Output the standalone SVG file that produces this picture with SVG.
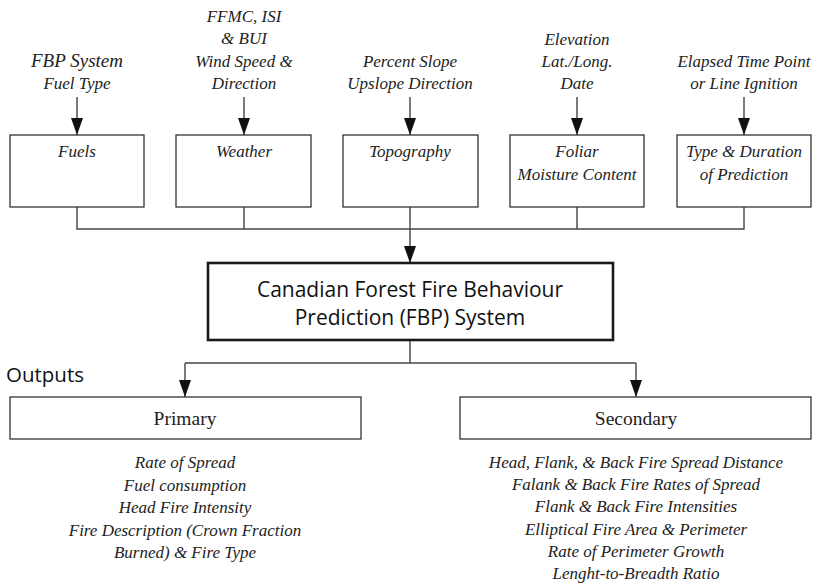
<svg xmlns="http://www.w3.org/2000/svg" width="815" height="585" viewBox="0 0 815 585">
<style>
.box{fill:#fff;stroke:#333;stroke-width:1.3}
.main{fill:#fff;stroke:#1a1a1a;stroke-width:2.6}
.ln{fill:none;stroke:#444;stroke-width:1.4}
.it{font-family:"Liberation Serif",serif;font-style:italic;font-size:17px;fill:#222;text-anchor:middle}
.big{font-size:19px}
.rm{font-family:"Liberation Serif",serif;font-size:19.5px;fill:#222;text-anchor:middle}
.sans{font-family:"Open Sans","Liberation Sans",sans-serif;fill:#111}
</style>
<defs>
<marker id="ad" markerWidth="12" markerHeight="17" refX="6" refY="17" orient="0" markerUnits="userSpaceOnUse" viewBox="0 0 12 17">
<path d="M0,0 L12,0 L6,17 Z" fill="#111"/>
</marker>
</defs>
<g id="connectors">
<line class="ln" x1="77" y1="97" x2="77" y2="135" marker-end="url(#ad)"/>
<line class="ln" x1="244" y1="97" x2="244" y2="135" marker-end="url(#ad)"/>
<line class="ln" x1="410" y1="97" x2="410" y2="135" marker-end="url(#ad)"/>
<line class="ln" x1="577" y1="97" x2="577" y2="135" marker-end="url(#ad)"/>
<line class="ln" x1="744" y1="97" x2="744" y2="135" marker-end="url(#ad)"/>
<path class="ln" d="M77,207 V229 H744 V207 M244,207 V229 M577,207 V229"/>
<line class="ln" x1="410" y1="207" x2="410" y2="263" marker-end="url(#ad)"/>
<path class="ln" d="M410,340 V363"/>
<path class="ln" d="M185,363 H636"/>
<line class="ln" x1="185" y1="363" x2="185" y2="397" marker-end="url(#ad)"/>
<line class="ln" x1="636" y1="363" x2="636" y2="397" marker-end="url(#ad)"/>
</g>
<g id="in-fuels">
<text class="it big" x="77" y="67">FBP System</text>
<text class="it" x="77" y="89">Fuel Type</text>
</g>
<g id="in-weather">
<text class="it" x="244" y="22">FFMC, ISI</text>
<text class="it" x="244" y="44">&amp; BUI</text>
<text class="it" x="244" y="67">Wind Speed &amp;</text>
<text class="it" x="244" y="89">Direction</text>
</g>
<g id="in-topo">
<text class="it" x="410" y="67">Percent Slope</text>
<text class="it" x="410" y="89">Upslope Direction</text>
</g>
<g id="in-foliar">
<text class="it" x="577" y="45">Elevation</text>
<text class="it" x="577" y="67">Lat./Long.</text>
<text class="it" x="577" y="89">Date</text>
</g>
<g id="in-type">
<text class="it" x="744" y="67">Elapsed Time Point</text>
<text class="it" x="744" y="89">or Line Ignition</text>
</g>
<g id="fuels">
<rect class="box" x="10" y="135" width="134" height="72"/>
<text class="it" x="77" y="157">Fuels</text>
</g>
<g id="weather">
<rect class="box" x="176" y="135" width="135" height="72"/>
<text class="it" x="244" y="157">Weather</text>
</g>
<g id="topography">
<rect class="box" x="343" y="135" width="135" height="72"/>
<text class="it" x="410" y="157">Topography</text>
</g>
<g id="foliar">
<rect class="box" x="510" y="135" width="134" height="72"/>
<text class="it" x="577" y="157">Foliar</text>
<text class="it" x="577" y="180">Moisture Content</text>
</g>
<g id="type">
<rect class="box" x="677" y="135" width="134" height="72"/>
<text class="it" x="744" y="157">Type &amp; Duration</text>
<text class="it" x="744" y="180">of Prediction</text>
</g>
<g id="fbp">
<rect class="main" x="208" y="263" width="405" height="77"/>
<text class="sans" x="410" y="297" font-size="21" text-anchor="middle">Canadian Forest Fire Behaviour</text>
<text class="sans" x="410" y="325" font-size="21" text-anchor="middle">Prediction (FBP) System</text>
</g>
<g id="outputs">
<text class="sans" x="6" y="382" font-size="20.5">Outputs</text>
</g>
<g id="primary">
<rect class="box" x="10" y="397" width="351" height="42"/>
<text class="rm" x="185" y="425">Primary</text>
</g>
<g id="primary-list">
<text class="it" x="185" y="468">Rate of Spread</text>
<text class="it" x="185" y="491">Fuel consumption</text>
<text class="it" x="185" y="513">Head Fire Intensity</text>
<text class="it" x="185" y="536">Fire Description (Crown Fraction</text>
<text class="it" x="185" y="558">Burned) &amp; Fire Type</text>
</g>
<g id="secondary">
<rect class="box" x="460" y="397" width="351" height="42"/>
<text class="rm" x="636" y="425">Secondary</text>
</g>
<g id="secondary-list">
<text class="it" x="636" y="468">Head, Flank, &amp; Back Fire Spread Distance</text>
<text class="it" x="636" y="490">Falank &amp; Back Fire Rates of Spread</text>
<text class="it" x="636" y="512">Flank &amp; Back Fire Intensities</text>
<text class="it" x="636" y="535">Elliptical Fire Area &amp; Perimeter</text>
<text class="it" x="636" y="557">Rate of Perimeter Growth</text>
<text class="it" x="636" y="579">Lenght-to-Breadth Ratio</text>
</g>
</svg>
